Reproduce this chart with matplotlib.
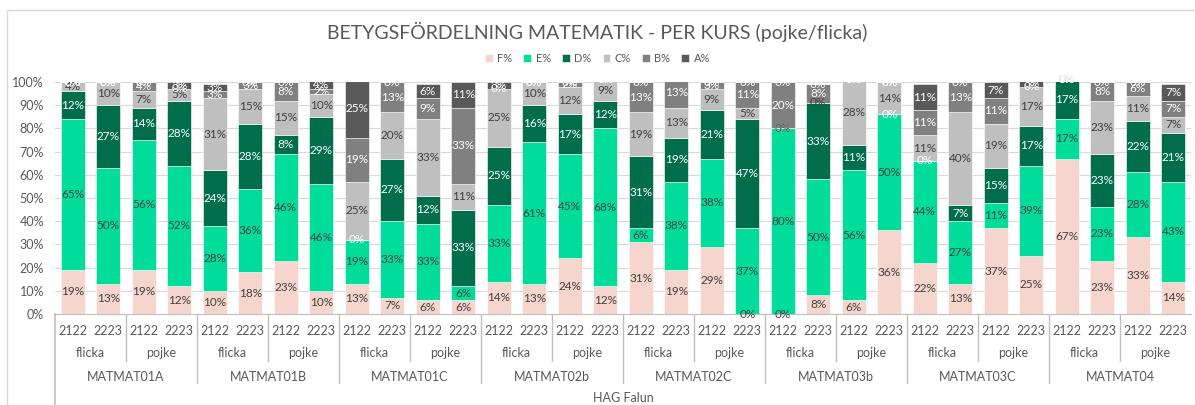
import numpy as np
import matplotlib
import matplotlib.pyplot as plt
from matplotlib.lines import Line2D
from matplotlib.patches import Rectangle

matplotlib.use('Agg')
plt.rcParams['font.family'] = ['Lato', 'DejaVu Sans']

courses = ['MATMAT01A', 'MATMAT01B', 'MATMAT01C', 'MATMAT02b',
           'MATMAT02C', 'MATMAT03b', 'MATMAT03C', 'MATMAT04']
genders = ['flicka', 'pojke']
years = ['2122', '2223']
grades = ['F%', 'E%', 'D%', 'C%', 'B%', 'A%']

# one value per bar, order: course -> gender -> year
F = [19, 13, 19, 12,  10, 18, 23, 10,  13, 7, 6, 6,   14, 13, 24, 12,
     31, 19, 29, 0,   0, 8, 6, 36,     22, 13, 37, 25,  67, 23, 33, 14]
E = [65, 50, 56, 52,  28, 36, 46, 46,  19, 33, 33, 6,  33, 61, 45, 68,
     6, 38, 38, 37,   80, 50, 56, 50,  44, 27, 11, 39,  17, 23, 28, 43]
D = [12, 27, 14, 28,  24, 28, 8, 29,   0, 27, 12, 33,  25, 16, 17, 12,
     31, 19, 21, 47,  0, 33, 11, 0,    0, 7, 15, 17,    17, 23, 22, 21]
C = [4, 10, 7, 5,     31, 15, 15, 10,  25, 20, 33, 11, 25, 10, 12, 9,
     19, 13, 9, 5,    0, 0, 28, 14,    11, 40, 19, 17,  0, 23, 11, 7]
B = [0, 0, 4, 0,      3, 3, 8, 2,      19, 13, 9, 33,  0, 0, 2, 0,
     13, 13, 3, 11,   20, 8, 0, 0,     11, 13, 11, 0,   0, 8, 6, 7]
A = [0, 0, 0, 3,      3, 0, 0, 4,      25, 0, 6, 11,   3, 0, 0, 0,
     0, 0, 0, 0,      0, 0, 0, 0,      11, 0, 7, 3,     0, 0, 0, 7]

series = [F, E, D, C, B, A]
colors = ['#F6D6CC', '#00DD9B', '#006E4B', '#BFBFBF', '#808080', '#595959']
label_colors = ['#404040', '#404040', 'white', '#404040', 'white', 'white']

fig = plt.figure(figsize=(11.95, 4.05), dpi=100)
ax = fig.add_axes([55 / 1195, 1 - 314 / 405, 1136 / 1195, 232 / 405])

n = len(F)
x = np.arange(n)
bottom = np.zeros(n)
for vals, col, lc, name in zip(series, colors, label_colors, grades):
    vals = np.array(vals, dtype=float)
    ax.bar(x, vals, 0.68, bottom=bottom, color=col, edgecolor='white',
           linewidth=0.4, label=name, zorder=2)
    for i in range(n):
        ax.text(x[i], bottom[i] + vals[i] / 2, '%d%%' % vals[i], ha='center',
                va='center', fontsize=8.5, color=lc, zorder=3)
    bottom += vals

ax.set_xlim(-0.5, n - 0.5)
ax.set_ylim(0, 100)
ax.set_yticks(np.arange(0, 101, 10))
ax.set_yticklabels(['%d%%' % v for v in range(0, 101, 10)])
ax.tick_params(axis='y', length=0, labelsize=9, colors='#595959', pad=8)
ax.set_xticks([])
ax.grid(axis='y', color='#D9D9D9', linewidth=0.8, zorder=0)
for s in ['top', 'right', 'left']:
    ax.spines[s].set_visible(False)
ax.spines['bottom'].set_color('#BFBFBF')

# multi-level category axis
def ay(py):
    return -(py - 314) / 232.0

tr = ax.get_xaxis_transform()
for i in range(n):
    ax.text(x[i], ay(331), years[i % 2], ha='center', va='center',
            fontsize=9, color='#595959', transform=tr)
for g in range(n // 2):
    ax.text(2 * g + 0.5, ay(353), genders[g % 2], ha='center', va='center',
            fontsize=9, color='#595959', transform=tr)
for c, name in enumerate(courses):
    ax.text(4 * c + 1.5, ay(377), name, ha='center', va='center',
            fontsize=9, color='#595959', transform=tr)
ax.text(n / 2 - 0.5, ay(398), 'HAG Falun', ha='center', va='center',
        fontsize=9, color='#595959', transform=tr)

for g in range(1, n // 2):
    low = ay(383) if g % 2 == 0 else ay(361)
    ax.add_line(Line2D([2 * g - 0.5] * 2, [0, low], transform=tr,
                       color='#BFBFBF', linewidth=1, clip_on=False))
ax.add_line(Line2D([-0.5] * 2, [0, ay(405)], transform=tr,
                   color='#BFBFBF', linewidth=1.2, clip_on=False))

# title and legend
fig.text(0.5, 1 - 32 / 405, 'BETYGSFÖRDELNING MATEMATIK - PER KURS (pojke/flicka)',
         ha='center', va='center', fontsize=14, color='#595959')
fig.legend(loc='center', bbox_to_anchor=(0.5, 1 - 58 / 405), ncol=6,
           frameon=False, fontsize=8, handlelength=0.7, handleheight=0.7,
           columnspacing=1.0, handletextpad=0.4, labelcolor='#595959')

# chart border
fig.add_artist(Rectangle((7 / 1195, -0.01), 1, 1 - 10 / 405 + 0.01,
                         transform=fig.transFigure, fill=False,
                         edgecolor='#D9D9D9', linewidth=1))

fig.savefig('out.png', dpi=100)
